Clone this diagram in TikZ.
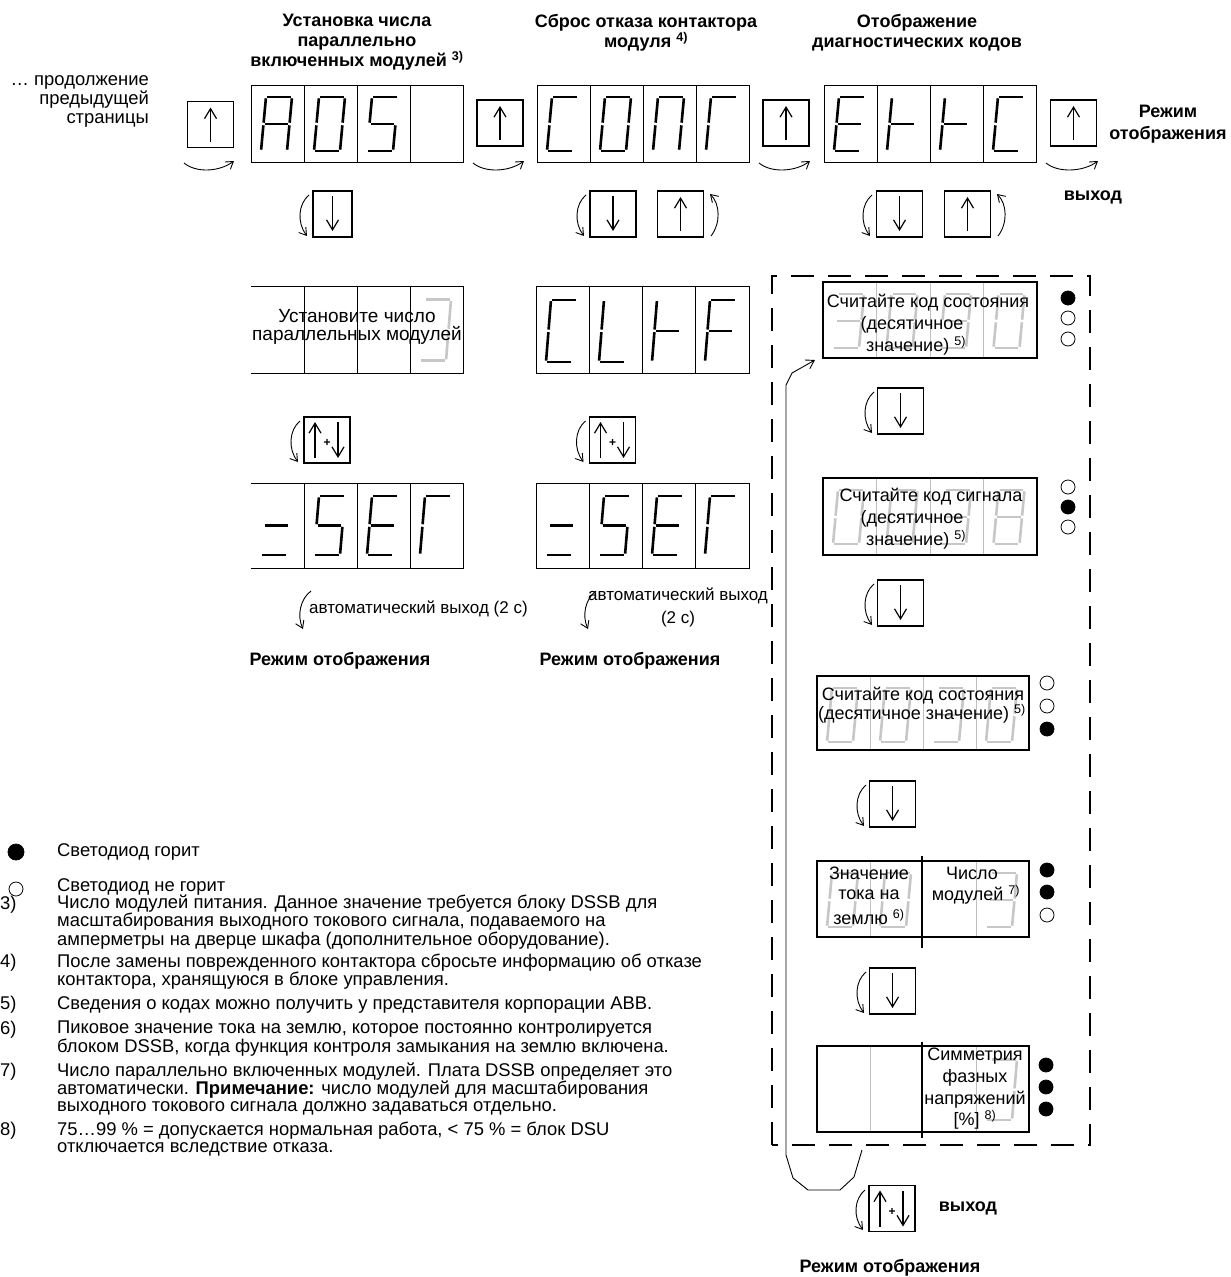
\documentclass[tikz,border=0pt]{standalone}
\usepackage{fontspec}
\setmainfont{Liberation Sans}
\usetikzlibrary{arrows.meta}
\newcommand\fA{\fontsize{18.4}{17}\selectfont}
\newcommand\fP{\fontsize{18}{22}\selectfont}
\newcommand\fT{\fontsize{18}{20}\selectfont\bfseries}
\tikzset{
  txt/.style={inner sep=0pt, font=\fA},
  ptxt/.style={inner sep=0pt, font=\fP},
  ttl/.style={inner sep=0pt, font=\fT, align=center},
  disp/.style={draw, line width=1pt},
  keybox/.style={draw, line width=1.8pt, minimum width=46pt, minimum height=46pt, inner sep=0pt},
  seg/.style={line width=2.6pt, shorten <=1.3pt, shorten >=1.3pt},
  gseg/.style={seg, draw=black!22},
  karrow/.style={line width=1.3pt, -{Straight Barb[length=10pt,width=12pt,line width=1.2pt]}},
  curv/.style={line width=0.9pt, -{Straight Barb[length=7pt,width=9pt,line width=0.9pt]}},
  panel/.style={draw, line width=1.8pt, inner sep=0pt},
  gdiv/.style={draw=black!25, line width=0.8pt},
  bdiv/.style={line width=2.4pt},
  led/.style={circle, draw, line width=0.8pt, minimum size=14pt, inner sep=0pt},
  ledon/.style={led, fill=black},
  dashbox/.style={line width=2pt, dash pattern=on 23pt off 14pt},
  thinl/.style={line width=0.9pt},
}
% seven-segment digit: style, x, y (cell top-left), yscale, segments
\newcommand\dig[5]{%
  \begin{scope}[shift={(#2,#3)}, yscale=#4]
    \coordinate (s-a-1) at (15,12);   \coordinate (s-a-2) at (41,12);
    \coordinate (s-b-1) at (41,12);   \coordinate (s-b-2) at (38.5,39);
    \coordinate (s-c-1) at (38.5,39); \coordinate (s-c-2) at (36,66);
    \coordinate (s-d-1) at (10,66);   \coordinate (s-d-2) at (36,66);
    \coordinate (s-e-1) at (12.5,39); \coordinate (s-e-2) at (10,66);
    \coordinate (s-f-1) at (15,12);   \coordinate (s-f-2) at (12.5,39);
    \coordinate (s-g-1) at (12.5,39); \coordinate (s-g-2) at (38.5,39);
    \foreach \s in {#5} {\draw[#1] (s-\s-1) -- (s-\s-2);}
  \end{scope}}
\newcommand\keyU[4]{%
  \node[keybox, minimum width=#4pt] (#1) at (#2,#3) {};
  \draw[karrow] (#2,#3+17) -- (#2,#3-17);}
\newcommand\keyD[4]{%
  \node[keybox, minimum width=#4pt] (#1) at (#2,#3) {};
  \draw[karrow] (#2,#3-18) -- (#2,#3+17);}
\newcommand\keyB[3]{%
  \node[keybox] (#1) at (#2,#3) {};
  \draw[karrow] (#2-12,#3+18) -- (#2-12,#3-18);
  \draw[karrow] (#2+11,#3-18) -- (#2+11,#3+18);
  \node[font=\bfseries\fontsize{12}{12}\selectfont, inner sep=0pt] (#1p) at (#2,#3+3) {+};}
\newcommand\lcurve[3]{\draw[curv] (#1-4,#2+4) .. controls (#1-15,#2+13) and (#1-16,#3-14) .. (#1-6,#3-1);}
\newcommand\rcurve[3]{\draw[curv] (#1+7,#3-1) .. controls (#1+17,#3-14) and (#1+16,#2+13) .. (#1+6,#2+3);}
\newcommand\bcurve[3]{\draw[curv] (#1-4,#3) .. controls (#1+8,#3+10) and (#2-14,#3+9) .. (#2+1,#3-2);}
\begin{document}
\begin{tikzpicture}[x=1pt, y=-1pt]
\useasboundingbox (0,0) rectangle (1231,1277);

% ---------- titles ----------
\node[ttl] (t1) at (357,42) {Установка числа\\параллельно\\включенных модулей \textsuperscript{3)}};
\node[ttl] (t2) at (646,33) {Сброс отказа контактора\\модуля \textsuperscript{4)}};
\node[ttl] (t3) at (917,33) {Отображение\\диагностических кодов};
\node[ttl, font=\fontsize{18}{22}\selectfont\bfseries] (t4) at (1168,124) {Режим\\отображения};
\node[ttl] (ex1) at (1093,197) {выход};
\node[txt, align=right, anchor=east, font=\fontsize{18.4}{19}\selectfont] (prev) at (149,101) {… продолжение\\предыдущей\\страницы};

% ---------- top row keys ----------
\keyU{ku1}{210.5}{124.5}{46}
\keyU{ku2}{500}{123}{46}
\keyU{ku3}{786}{123}{46}
\keyU{ku4}{1073.5}{123}{46}
\bcurve{188}{233}{163}
\bcurve{477}{523}{163}
\bcurve{763}{809}{163}
\bcurve{1050}{1097}{163}

% ---------- row 1 displays ----------
\draw[disp] (251,85) rectangle (463,162);
\foreach \x in {304,357,410} \draw[disp] (\x,85) -- (\x,162);
\dig{seg}{251}{85}{1}{a,b,c,e,f,g}
\dig{seg}{304}{85}{1}{a,b,c,d,e,f}
\dig{seg}{357}{85}{1}{a,f,g,c,d}

\draw[disp] (537,85) rectangle (749,162);
\foreach \x in {590,643,696} \draw[disp] (\x,85) -- (\x,162);
\dig{seg}{537}{85}{1}{a,d,e,f}
\dig{seg}{590}{85}{1}{a,b,c,d,e,f}
\dig{seg}{643}{85}{1}{a,b,c,e,f}
\dig{seg}{696}{85}{1}{a,e,f}

\draw[disp] (824,85) rectangle (1036,162);
\foreach \x in {877,930,983} \draw[disp] (\x,85) -- (\x,162);
\dig{seg}{824}{85}{1}{a,d,e,f,g}
\dig{seg}{877}{85}{1}{e,f,g}
\dig{seg}{930}{85}{1}{e,f,g}
\dig{seg}{983}{85}{1}{a,d,e,f}

% ---------- keys under row 1 ----------
\keyD{kd1}{332.5}{214}{39}
\lcurve{313}{191}{237}
\keyD{kd2}{613}{214}{46}
\lcurve{590}{191}{237}
\keyU{kr2}{680.5}{214}{46}
\rcurve{704}{191}{237}
\keyD{kd3}{899.5}{214}{46}
\lcurve{876}{191}{237}
\keyU{kr3}{967.5}{214}{46}
\rcurve{991}{191}{237}

% ---------- row 2 displays ----------
\draw[disp] (251,286) -- (463,286) -- (463,373) -- (251,373);
\foreach \x in {304,357,410} \draw[disp] (\x,286) -- (\x,373);
\dig{gseg}{410}{286}{1.13}{a,b,c,d}
\node[ptxt, font=\fontsize{19}{20}\selectfont] (d4t1) at (357,316) {Установите число};
\node[ptxt, font=\fontsize{19}{20}\selectfont] (d4t2) at (357,335) {параллельных модулей};

\draw[disp] (536,286) rectangle (749,373);
\foreach \x in {589,642,695} \draw[disp] (\x,286) -- (\x,373);
\dig{seg}{536}{286}{1.15}{a,d,e,f}
\dig{seg}{589}{286}{1.15}{d,e,f}
\dig{seg}{642}{286}{1.15}{e,f,g}
\dig{seg}{695}{286}{1.15}{a,e,f,g}

% ---------- keys under row 2 ----------
\keyB{kb1}{327}{440}
\lcurve{304}{417}{463}
\keyB{kb2}{612.5}{440}
\lcurve{589.5}{417}{463}

% ---------- row 3 displays ----------
\draw[disp] (251,483) -- (463,483) -- (463,568) -- (251,568);
\foreach \x in {304,357,410} \draw[disp] (\x,483) -- (\x,568);
\dig{seg}{251}{483}{1.09}{g,d}
\dig{seg}{304}{483}{1.09}{a,f,g,c,d}
\dig{seg}{357}{483}{1.09}{a,d,e,f,g}
\dig{seg}{410}{483}{1.09}{a,e,f}

\draw[disp] (536,483) rectangle (749,568);
\foreach \x in {589,642,695} \draw[disp] (\x,483) -- (\x,568);
\dig{seg}{536}{483}{1.09}{g,d}
\dig{seg}{589}{483}{1.09}{a,f,g,c,d}
\dig{seg}{642}{483}{1.09}{a,d,e,f,g}
\dig{seg}{695}{483}{1.09}{a,e,f}

% ---------- automatic exit ----------
\draw[curv] (311,591) .. controls (300,599) and (297,616) .. (303,629);
\node[txt, anchor=west, font=\fontsize{17}{17}\selectfont] (au1) at (309,609) {автоматический выход (2 с)};
\draw[curv] (596,591) .. controls (585,599) and (582,616) .. (588,629);
\node[txt, align=center, font=\fontsize{17}{23}\selectfont] (au2) at (678,607) {автоматический выход\\(2 с)};
\node[ttl] (rm1) at (340,661) {Режим отображения};
\node[ttl] (rm2) at (630,661) {Режим отображения};

% ---------- dashed area ----------
\draw[dashbox] (772,1145) -- (772,276) -- (1090,276) -- (1090,1145) -- cycle;

% panel 1
\node[panel, minimum width=214pt, minimum height=76pt] (p1) at (930,320) {};
\foreach \x in {876.5,930,983.5} \draw[gdiv] (\x,283) -- (\x,357);
\dig{gseg}{823}{282}{1}{a,b,c,d,g}
\dig{gseg}{876.5}{282}{1}{a,b,c,d,e,f}
\dig{gseg}{930}{282}{1}{a,b,c,d,f,g}
\dig{gseg}{983.5}{282}{1}{a,b,c,d,e,f}
\node[ptxt] (p1a) at (928,303) {Считайте код состояния};
\node[ptxt] (p1b) at (912,325) {(десятичное};
\node[ptxt] (p1c) at (916,346) {значение) \textsuperscript{5)}};
\node[ledon] (l11) at (1068,298) {};
\node[led] (l12) at (1068,318) {};
\node[led] (l13) at (1068,339) {};

\keyD{kp1}{900.5}{411}{46}
\lcurve{878}{388}{434}

% panel 2
\node[panel, minimum width=214pt, minimum height=77pt] (p2) at (930,516.5) {};
\foreach \x in {876.5,930,983.5} \draw[gdiv] (\x,479) -- (\x,554);
\dig{gseg}{823}{478}{1}{a,b,c,d,e,f}
\dig{gseg}{876.5}{478}{1}{a,b,c,d,e,f}
\dig{gseg}{930}{478}{1}{a,b,c,d,g}
\dig{gseg}{983.5}{478}{1}{a,b,c,d,e,f,g}
\node[ptxt] (p2a) at (931,497) {Считайте код сигнала};
\node[ptxt] (p2b) at (912,519) {(десятичное};
\node[ptxt] (p2c) at (916,540) {значение) \textsuperscript{5)}};
\node[led] (l21) at (1068,487) {};
\node[ledon] (l22) at (1068,507) {};
\node[led] (l23) at (1068,527) {};

\keyD{kp2}{900.5}{603}{46}
\lcurve{878}{580}{626}

% panel 3
\node[panel, minimum width=212pt, minimum height=74pt] (p3) at (923,713) {};
\foreach \x in {870,923,976} \draw[gdiv] (\x,677) -- (\x,749);
\dig{gseg}{817}{676}{1}{a,b,c,d,e,f}
\dig{gseg}{870}{676}{1}{a,b,c,d,e,f}
\dig{gseg}{923}{676}{1}{a,b,c,d,g}
\dig{gseg}{976}{676}{1}{a,b,c,d,e,f}
\node[ptxt] (p3a) at (923,696) {Считайте код состояния};
\node[ptxt] (p3b) at (922,714) {(десятичное значение) \textsuperscript{5)}};
\node[led] (l31) at (1047,683) {};
\node[led] (l32) at (1047,706) {};
\node[ledon] (l33) at (1047,729) {};

\keyD{kp3}{892.5}{804}{46}
\lcurve{870}{781}{827}

% panel 4
\node[panel, minimum width=212pt, minimum height=76pt] (p4) at (923,899) {};
\foreach \x in {870,976} \draw[gdiv] (\x,862) -- (\x,936);
\draw[bdiv] (922,856) -- (922,948);
\dig{gseg}{817}{861}{1}{a,b,c,d,e,f}
\dig{gseg}{870}{861}{1}{a,b,c,d,e,f}
\dig{gseg}{976}{861}{1}{a,b,c,d,g}
\node[ptxt] (p4a) at (869,873) {Значение};
\node[ptxt] (p4b) at (869,895) {тока на};
\node[ptxt] (p4c) at (869,917) {землю \textsuperscript{6)}};
\node[ptxt] (p4d) at (972,873) {Число};
\node[ptxt] (p4e) at (976,895) {модулей \textsuperscript{7)}};
\node[ledon] (l41) at (1047,870) {};
\node[ledon] (l42) at (1047,892) {};
\node[led] (l43) at (1047,915) {};

\keyD{kp4}{892.5}{991}{46}
\lcurve{870}{968}{1014}

% panel 5
\node[panel, minimum width=212pt, minimum height=86pt] (p5) at (923,1089) {};
\foreach \x in {870,976} \draw[gdiv] (\x,1047) -- (\x,1131);
\draw[bdiv] (922,1042) -- (922,1138);
\dig{gseg}{976}{1046}{1.12}{a,b,c,d}
\node[ptxt] (p5a) at (975,1056) {Симметрия};
\node[ptxt] (p5b) at (975,1078) {фазных};
\node[ptxt] (p5c) at (975,1100) {напряжений};
\node[ptxt] (p5d) at (975,1120) {[\%] \textsuperscript{8)}};
\node[ledon] (l51) at (1046,1065) {};
\node[ledon] (l52) at (1046,1087) {};
\node[ledon] (l53) at (1046,1109) {};

% return path
\coordinate (rs) at (862,1150);
\coordinate (re) at (815,360);
\draw[thinl, -{Straight Barb[length=8pt,width=10pt,line width=0.9pt]}] (rs) -- (854,1177) -- (840,1190) -- (808,1190) -- (793,1178) -- (786,1155) -- (786,385) -- (792,373) -- (re);

% exit key
\keyB{kx}{892}{1208.5}
\lcurve{869}{1186}{1231}
\node[ttl] (ex2) at (968,1208) {выход};
\node[ttl] (rm3) at (890,1268) {Режим отображения};

% ---------- legend & footnotes ----------
\node[ledon, minimum size=16pt] (lgon) at (16,852) {};
\node[led] (lgoff) at (16,889) {};
\node[txt, anchor=west] (lg1) at (57,852) {Светодиод горит};
\node[txt, anchor=west] (lg2) at (57,887) {Светодиод не горит};

\node[txt, anchor=west] (n3) at (0,905) {3)};
\node[txt, anchor=west, align=left] (f3) at (57,922) {Число модулей питания. Данное значение требуется блоку DSSB для\\масштабирования выходного токового сигнала, подаваемого на\\амперметры на дверце шкафа (дополнительное оборудование).};
\node[txt, anchor=west] (n4) at (0,963) {4)};
\node[txt, anchor=west, align=left] (f4) at (57,971.5) {После замены поврежденного контактора сбросьте информацию об отказе\\контактора, хранящуюся в блоке управления.};
\node[txt, anchor=west] (n5) at (0,1005) {5)};
\node[txt, anchor=west] (f5) at (57,1005) {Сведения о кодах можно получить у представителя корпорации ABB.};
\node[txt, anchor=west] (n6) at (0,1030) {6)};
\node[txt, anchor=west, align=left] (f6) at (57,1038.5) {Пиковое значение тока на землю, которое постоянно контролируется\\блоком DSSB, когда функция контроля замыкания на землю включена.};
\node[txt, anchor=west] (n7) at (0,1072) {7)};
\node[txt, anchor=west, align=left] (f7) at (57,1089) {Число параллельно включенных модулей. Плата DSSB определяет это\\автоматически. \textbf{Примечание:} число модулей для масштабирования\\выходного токового сигнала должно задаваться отдельно.};
\node[txt, anchor=west] (n8) at (0,1131) {8)};
\node[txt, anchor=west, align=left] (f8) at (57,1139.5) {75…99 \% = допускается нормальная работа, < 75 \% = блок DSU\\отключается вследствие отказа.};
\end{tikzpicture}
\end{document}
